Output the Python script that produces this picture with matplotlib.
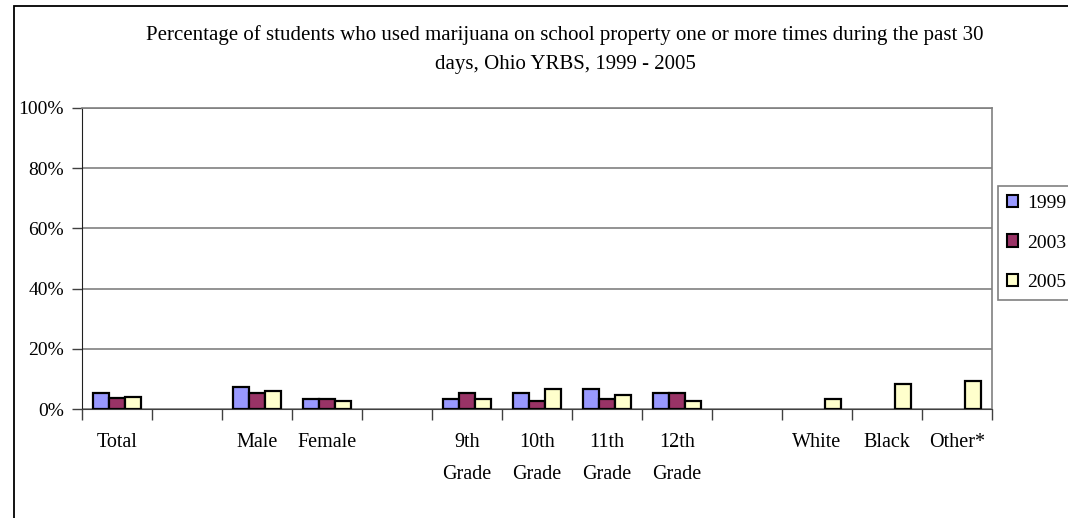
import matplotlib.pyplot as plt
from matplotlib.patches import Rectangle, Patch

# ── data ────────────────────────────────────────────────────────────────────
categories = ['Total', '', 'Male', 'Female', '', '9th\nGrade', '10th\nGrade',
              '11th\nGrade', '12th\nGrade', '', 'White', 'Black', 'Other*']
years = ['1999', '2003', '2005']
v1999 = [5.4, 0, 7.3, 3.3, 0, 3.3, 5.4, 6.8, 5.4, 0, 0, 0, 0]
v2003 = [3.8, 0, 5.4, 3.3, 0, 5.4, 2.8, 3.3, 5.4, 0, 0, 0, 0]
v2005 = [4.0, 0, 6.0, 2.8, 0, 3.3, 6.8, 4.7, 2.8, 0, 3.3, 8.2, 9.4]
yticks = [0, 20, 40, 60, 80, 100]

title = ('Percentage of students who used marijuana on school property one or more times during the past 30\n'
         'days, Ohio YRBS, 1999 - 2005')

colors = ['#9999FF', '#993366', '#FFFFCC']
font = 'Liberation Serif'
W, H = 1068, 518

plt.rcParams['font.family'] = font

fig = plt.figure(figsize=(W / 100, H / 100), dpi=100)
ax = fig.add_axes([82 / W, 1 - 409 / H, 910 / W, 301 / H])

# outer chart frame (runs off the right and bottom edges)
fig.patches.append(Rectangle((14 / W, -0.1), 1.2, 1 - 6 / H + 0.1, transform=fig.transFigure,
                             fill=False, edgecolor='black', linewidth=1.3))

bw = 0.224
x = list(range(len(categories)))
for i, (vals, c) in enumerate(zip([v1999, v2003, v2005], colors)):
    xs = [xi + (i - 1) * bw for xi, v in zip(x, vals) if v > 0]
    hs = [v for v in vals if v > 0]
    ax.bar(xs, hs, width=bw, color=c, edgecolor='black', linewidth=1.6, zorder=3)

ax.set_xlim(-0.5, len(categories) - 0.5)
ax.set_ylim(0, 100)

ax.set_yticks(yticks)
ax.set_yticklabels([f'{t}%' for t in yticks])
ax.yaxis.grid(True, color='#808080', linewidth=1.2)
ax.set_axisbelow(True)

# category boundaries carry the ticks, labels sit in the middle
ax.set_xticks([k - 0.5 for k in range(len(categories) + 1)])
ax.set_xticklabels([])
ax.tick_params(axis='x', direction='out', length=8, width=1, color='#404040')
ax.tick_params(axis='y', direction='out', length=7, width=1, color='#404040',
               labelsize=14, pad=6)
for k, lab in enumerate(categories):
    ax.text(k, -8.0, lab, ha='center', va='top', fontsize=14.5,
            linespacing=1.95, transform=ax.transData)

for s in ['top', 'right']:
    ax.spines[s].set_color('#808080')
    ax.spines[s].set_linewidth(1.2)
ax.spines['left'].set_color('#202020')
ax.spines['bottom'].set_color('#404040')

fig.text(565 / W, 1 - 25 / H, title, ha='center', va='top', fontsize=15, linespacing=1.75)

handles = [Patch(facecolor=c, edgecolor='black', linewidth=1.5) for c in colors]
leg = fig.legend(handles, years, loc='center left', bbox_to_anchor=(998 / W, 1 - 243 / H),
                 fontsize=14, frameon=True, fancybox=False, borderpad=0.45,
                 labelspacing=1.15, handlelength=0.6, handleheight=0.6, handletextpad=0.45,
                 borderaxespad=0)
leg.get_frame().set_edgecolor('#606060')
leg.get_frame().set_linewidth(1.2)

fig.savefig('out.png', dpi=100)
